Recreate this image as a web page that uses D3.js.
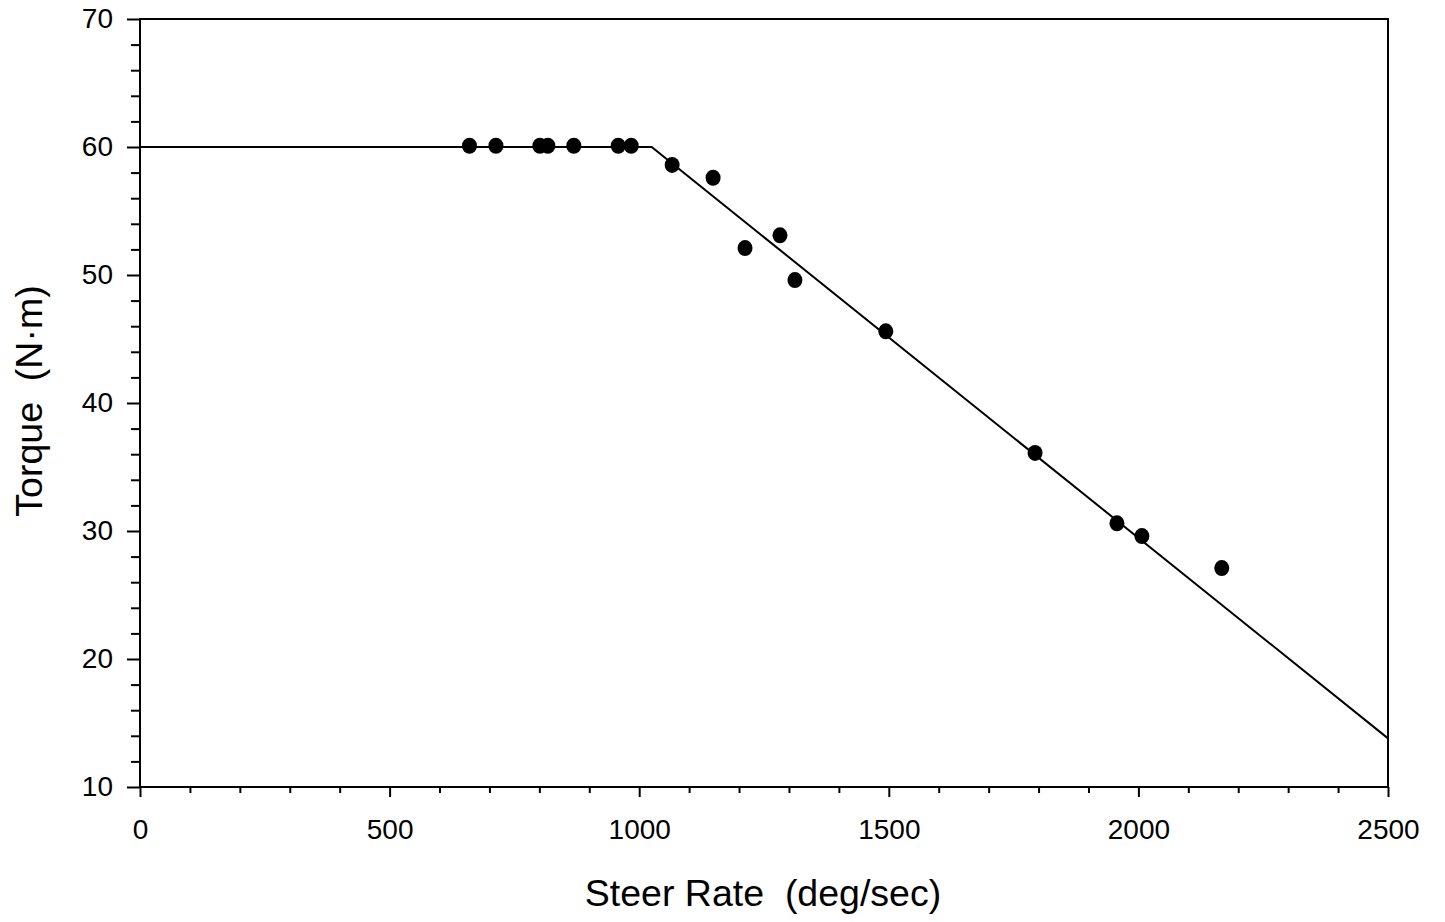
<!DOCTYPE html>
<html>
<head>
<meta charset="utf-8">
<script src="https://cdn.jsdelivr.net/npm/d3@7"></script>
<style>
  body { margin: 0; background: #fff; }
  svg { display: block; font-family: "Liberation Sans", Arial, sans-serif; }
</style>
</head>
<body>
<svg id="chart" width="1445" height="922"></svg>
<script>
// measured points, steer rate (deg/sec) vs torque (N·m)
var steerRate = [660, 713, 801, 817, 869, 958, 984, 1066, 1148, 1212, 1282, 1312, 1494, 1793, 1957, 2007, 2167];
var torque = [60.1, 60.1, 60.1, 60.1, 60.1, 60.1, 60.1, 58.6, 57.6, 52.1, 53.1, 49.6, 45.6, 36.1, 30.6, 29.6, 27.1];

// model curve: flat, then linear fall-off
var curveRate = [0, 1025, 2500];
var curveTorque = [60, 60, 13.8];

var xTicks = [0, 500, 1000, 1500, 2000, 2500];
var yTicks = [10, 20, 30, 40, 50, 60, 70];

var svg = d3.select('#chart');
var plotLeft = 140, plotRight = 1388, plotTop = 19, plotBottom = 787;

var x = d3.scaleLinear().domain([0, 2500]).range([plotLeft, plotRight]);
var y = d3.scaleLinear().domain([10, 70]).range([plotBottom, plotTop]);

// minor ticks
var xMinor = d3.range(0, 2501, 100).filter(function (d) { return d % 500 !== 0; });
var yMinor = d3.range(10, 71, 2).filter(function (d) { return d % 10 !== 0; });

svg.append('g')
  .attr('transform', 'translate(0,' + plotBottom + ')')
  .call(d3.axisBottom(x).tickValues(xMinor).tickSize(6).tickFormat(''))
  .call(function (g) { g.select('.domain').remove(); })
  .selectAll('line').attr('stroke-width', 2);

svg.append('g')
  .attr('transform', 'translate(' + plotLeft + ',0)')
  .call(d3.axisLeft(y).tickValues(yMinor).tickSize(9).tickFormat(''))
  .call(function (g) { g.select('.domain').remove(); })
  .selectAll('line').attr('stroke-width', 2);

// major ticks + labels
var xAxis = svg.append('g')
  .attr('transform', 'translate(0,' + plotBottom + ')')
  .call(d3.axisBottom(x).tickValues(xTicks).tickSize(10).tickPadding(22).tickFormat(d3.format('d')));
xAxis.select('.domain').remove();
xAxis.selectAll('line').attr('stroke-width', 2);
xAxis.selectAll('text').attr('font-size', 28).attr('fill', '#000');

var yAxis = svg.append('g')
  .attr('transform', 'translate(' + plotLeft + ',0)')
  .call(d3.axisLeft(y).tickValues(yTicks).tickSize(13).tickPadding(14).tickFormat(d3.format('d')));
yAxis.select('.domain').remove();
yAxis.selectAll('line').attr('stroke-width', 2);
yAxis.selectAll('text').attr('font-size', 28).attr('fill', '#000');

// frame
svg.append('rect')
  .attr('x', plotLeft).attr('y', plotTop)
  .attr('width', plotRight - plotLeft).attr('height', plotBottom - plotTop)
  .attr('fill', 'none').attr('stroke', '#000').attr('stroke-width', 2);

// model line
var curve = curveRate.map(function (d, i) { return [d, curveTorque[i]]; });
svg.append('path')
  .datum(curve)
  .attr('fill', 'none')
  .attr('stroke', '#000')
  .attr('stroke-width', 2)
  .attr('d', d3.line().x(function (d) { return x(d[0]); }).y(function (d) { return y(d[1]); }));

// data points
var pts = steerRate.map(function (d, i) { return { rate: d, torque: torque[i] }; });
svg.selectAll('ellipse.pt')
  .data(pts)
  .enter()
  .append('ellipse')
  .attr('class', 'pt')
  .attr('cx', function (d) { return x(d.rate); })
  .attr('cy', function (d) { return y(d.torque); })
  .attr('rx', 7.5)
  .attr('ry', 8)
  .attr('fill', '#000');

// axis titles
svg.append('text')
  .attr('x', (plotLeft + plotRight) / 2 - 1)
  .attr('y', 906)
  .attr('text-anchor', 'middle')
  .attr('font-size', 37.5)
  .attr('xml:space', 'preserve')
  .text('Steer Rate  (deg/sec)');

svg.append('text')
  .attr('transform', 'translate(42,401) rotate(-90)')
  .attr('text-anchor', 'middle')
  .attr('font-size', 37.5)
  .attr('xml:space', 'preserve')
  .text('Torque  (N·m)');
</script>
</body>
</html>
